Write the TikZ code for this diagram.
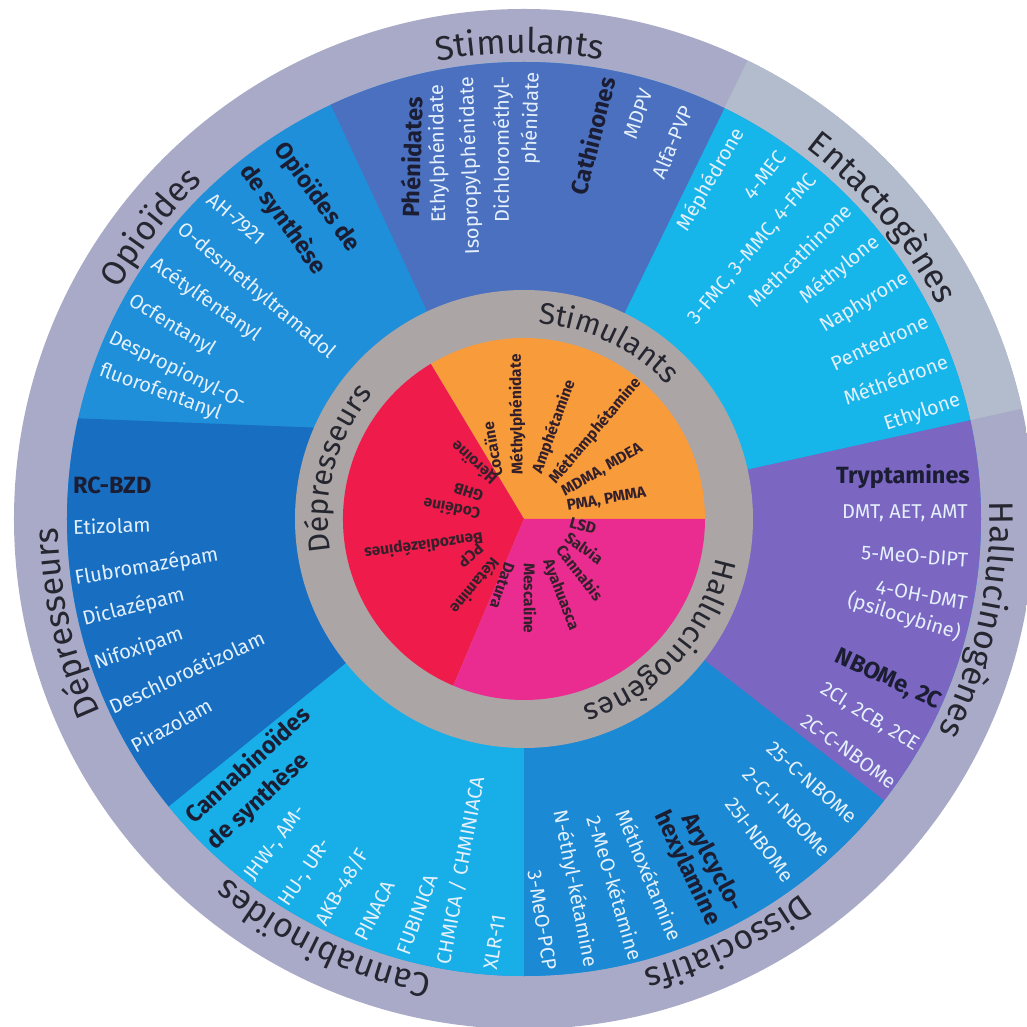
\documentclass[tikz,border=0pt]{standalone}
\usepackage{fontspec}
\setmainfont{Fira Sans}
\usetikzlibrary{decorations.text}
\definecolor{ringout}{HTML}{A9AAC8}
\definecolor{ringlight}{HTML}{B3BCCD}
\definecolor{innergrey}{HTML}{ABA5A6}
\definecolor{opio}{HTML}{1F8FD9}
\definecolor{stim}{HTML}{4B70BF}
\definecolor{enta}{HTML}{17B6EA}
\definecolor{hallu}{HTML}{7B67C2}
\definecolor{disso}{HTML}{1B89D3}
\definecolor{canna}{HTML}{18AEE7}
\definecolor{rcbzd}{HTML}{186FC2}
\definecolor{pieor}{HTML}{F89B3B}
\definecolor{piered}{HTML}{EF1C4B}
\definecolor{piemag}{HTML}{EA2B8F}
\definecolor{itemtxt}{HTML}{E4F0FB}
\definecolor{headtxt}{HTML}{1B1D33}
\definecolor{lbltxt}{HTML}{262630}
\definecolor{pietext}{HTML}{33202A}
\newcommand\ringlabel[4]{%
  \path[decorate, decoration={text along path, text align=center, text color=lbltxt,
    text={|\fontsize{#3}{#3}\selectfont|#4}}]
    ({#2+50}:#1) arc[start angle={#2+50}, end angle={#2-50}, radius=#1];}
\begin{document}
\begin{tikzpicture}[x=1pt,y=1pt,
  item/.style={text=itemtxt, font=\fontsize{20}{23}\selectfont, inner sep=0pt},
  head/.style={text=headtxt, font=\fontsize{23.5}{26}\selectfont\bfseries, inner sep=0pt},
  pie/.style={text=pietext, font=\fontsize{15.5}{17}\selectfont\bfseries, inner sep=0pt, anchor=west}]
\useasboundingbox (-524,-508) rectangle (503,519);
\clip (-524,-508) rectangle (503,519);
\fill[white] (-524,-508) rectangle (503,519);
% outer ring
\begin{scope}
  \clip (0,0) circle[radius=510];
  \fill[ringout] (-600,-600) rectangle (600,600);
  \fill[ringlight] (0,0) -- (12.5:700) -- (38:700) -- (64:700) -- cycle;
\end{scope}
% middle ring sectors
\begin{scope}
  \clip (0,0) circle[radius=457];
  \fill[opio] (-600,-600) rectangle (600,600);
  \fill[rcbzd] (-700,110.6) -- (0,83.2) -- (0,0) -- (219:900) -- cycle;
  \fill[canna] (0,0) -- (219:900) -- (270:900) -- cycle;
  \fill[disso] (0,0) -- (270:900) -- (-38:900) -- cycle;
  \fill[hallu] (0,0) -- (-38:900) -- (12.5:900) -- cycle;
  \fill[enta] (0,0) -- (12.5:900) -- (64:900) -- cycle;
  \fill[stim] (0,0) -- (64:900) -- (115:900) -- cycle;
\end{scope}
% inner ring and pie
\fill[innergrey] (0,0) circle[radius=229];
\fill[pieor] (0,0) -- (0:181) arc[start angle=0, end angle=121, radius=181] -- cycle;
\fill[piered] (0,0) -- (121:181) arc[start angle=121, end angle=247, radius=181] -- cycle;
\fill[piemag] (0,0) -- (247:181) arc[start angle=247, end angle=360, radius=181] -- cycle;
% outer labels
\ringlabel{466}{90.5}{34}{Stimulants}
\ringlabel{466}{40}{34}{Entactogènes}
\ringlabel{466}{-12.5}{34}{Hallucinogènes}
\ringlabel{466}{-64.3}{34}{Dissociatifs}
\ringlabel{466}{244.5}{34}{Cannabinoïdes}
\ringlabel{466}{192.8}{34}{Dépresseurs}
\ringlabel{466}{142}{34}{Opioïdes}
% inner labels
\ringlabel{196}{64.5}{30}{Stimulants}
\ringlabel{196}{-42}{30}{Hallucinogènes}
\ringlabel{196}{165}{30}{Dépresseurs}
% Opioides sector
\node[head, anchor=west, rotate=-54] (opA) at (-245,374) {Opioïdes de};
\node[head, anchor=west, rotate=-54] (opB) at (-279,352) {de synthèse};
\node[item, anchor=west, rotate=-40] (op1) at (-314,322) {AH-7921};
\node[item, anchor=west, rotate=-40] (op2) at (-344,292) {O-desmethyltramadol};
\node[item, anchor=west, rotate=-35] (op3) at (-371,256) {Acétylfentanyl};
\node[item, anchor=west, rotate=-31.5] (op4) at (-394,219) {Ocfentanyl};
\node[item, anchor=west, rotate=-26.4] (op5) at (-414,182) {Despropionyl-O-};
\node[item, anchor=west, rotate=-20.3] (op6) at (-424,149) {fluorofentanyl};
% RC-BZD sector
\node[head, anchor=west] (bz0) at (-451,34) {RC-BZD};
\node[item, anchor=west, rotate=2] (bz1) at (-451,-8) {Etizolam};
\node[item, anchor=west, rotate=9.7] (bz2) at (-449,-60) {Flubromazépam};
\node[item, anchor=west, rotate=14] (bz3) at (-441,-101) {Diclazépam};
\node[item, anchor=west, rotate=19] (bz4) at (-429,-145) {Nifoxipam};
\node[item, anchor=west, rotate=24.8] (bz5) at (-414,-188) {Deschloroétizolam};
\node[item, anchor=west, rotate=29] (bz6) at (-392,-228) {Pirazolam};
% Cannabinoides sector
\node[head, anchor=west, rotate=42.5] (caA) at (-336,-299) {Cannabinoïdes};
\node[head, anchor=west, rotate=42.5] (caB) at (-314,-326) {de synthèse};
\node[item, anchor=west, rotate=53] (ca1) at (-275,-360) {JHW-, AM-};
\node[item, anchor=west, rotate=56] (ca2) at (-240,-386) {HU-, UR-};
\node[item, anchor=west, rotate=59.6] (ca3) at (-204,-405) {AKB-48/F};
\node[item, anchor=west, rotate=63] (ca4) at (-164,-421) {PINACA};
\node[item, anchor=west, rotate=70] (ca5) at (-121,-435) {FUBINICA};
\node[item, anchor=west, rotate=79.5] (ca6) at (-81,-445) {CHMICA / CHMINIACA};
\node[item, anchor=west, rotate=81] (ca7) at (-34,-451) {XLR-11};
% Dissociatifs sector
\node[head, anchor=east, rotate=-62] (diA) at (213,-391) {Arylcyclo-};
\node[head, anchor=east, rotate=-64.5] (diB) at (190,-405) {hexylamine};
\node[item, anchor=east, rotate=-41.4] (di1) at (330,-301) {25-C-NBOMe};
\node[item, anchor=east, rotate=-46] (di2) at (303,-335) {2-C-I-NBOMe};
\node[item, anchor=east, rotate=-53] (di3) at (266,-361) {25I-NBOMe};
\node[item, anchor=east, rotate=-67.3] (di4) at (153,-421) {Méthoxétamine};
\node[item, anchor=east, rotate=-73.6] (di5) at (113,-441) {2-MeO-kétamine};
\node[item, anchor=east, rotate=-78.8] (di6) at (66,-448) {N-éthyl-kétamine};
\node[item, anchor=east, rotate=-81] (di7) at (26,-451) {3-MeO-PCP};
% Hallucinogenes sector
\node[head, anchor=east] (haA) at (446,42) {Tryptamines};
\node[item, anchor=east] (ha1) at (444,6) {DMT, AET, AMT};
\node[item, anchor=east, rotate=-4] (ha2) at (444,-41) {5-MeO-DIPT};
\node[item, anchor=east, rotate=-11] (ha3) at (443,-85) {4-OH-DMT};
\node[item, anchor=east, rotate=-17] (ha4) at (436,-115) {(psilocybine)};
\node[head, anchor=east, rotate=-25] (haB) at (416,-185) {NBOMe, 2C};
\node[item, anchor=east, rotate=-31.8] (ha5) at (393,-228) {2CI, 2CB, 2CE};
\node[item, anchor=east, rotate=-35.7] (ha6) at (370,-265) {2C-C-NBOMe};
% Entactogenes sector
\node[item, anchor=east, rotate=60] (en1) at (216,389) {Méphédrone};
\node[item, anchor=east, rotate=52] (en2) at (258,366) {4-MEC};
\node[item, anchor=east, rotate=50] (en3) at (290,342) {3-FMC, 3-MMC, 4-FMC};
\node[item, anchor=east, rotate=45] (en4) at (324,312) {Methcathinone};
\node[item, anchor=east, rotate=39] (en5) at (353,279) {Méthylone};
\node[item, anchor=east, rotate=31] (en6) at (383,242) {Naphyrone};
\node[item, anchor=east, rotate=25] (en7) at (403,199) {Pentedrone};
\node[item, anchor=east, rotate=20.5] (en8) at (423,159) {Méthédrone};
\node[item, anchor=east, rotate=18.6] (en9) at (436,119) {Ethylone};
% Stimulants sector
\node[head, anchor=east, rotate=88.6] (stA) at (-111,422) {Phénidates};
\node[item, anchor=east, rotate=91] (st1) at (-87,434) {Ethylphénidate};
\node[item, anchor=east, rotate=92] (st2) at (-57,442) {Isopropylphénidate};
\node[item, anchor=east, rotate=90] (st3) at (-21,443) {Dichlorométhyl-};
\node[item, anchor=east, rotate=88] (st4) at (9,447) {phénidate};
\node[head, anchor=east, rotate=75.8] (stB) at (83,442) {Cathinones};
\node[item, anchor=east, rotate=70.7] (st5) at (123,429) {MDPV};
\node[item, anchor=east, rotate=67.6] (st6) at (163,412) {Alfa-PVP};
% pie labels
\node[pie, rotate=100] (p1) at (-27,42) {Cocaïne};
\node[pie, rotate=91] (p2) at (-6,44) {Méthylphénidate};
\node[pie, rotate=70] (p3) at (13,46) {Amphétamine};
\node[pie, rotate=50] (p4) at (28,37) {Méthamphétamine};
\node[pie, rotate=30] (p5) at (39,26) {MDMA, MDEA};
\node[pie, rotate=10] (p6) at (43,12) {PMA, PMMA};
\node[pie, rotate=-16] (p7) at (46,-3) {LSD};
\node[pie, rotate=-36] (p8) at (43,-16) {Salvia};
\node[pie, rotate=-52] (p9) at (36,-28) {Cannabis};
\node[pie, rotate=-69] (p10) at (23,-41) {Ayahuasca};
\node[pie, rotate=-90] (p11) at (6,-44) {Mescaline};
\node[pie, rotate=-109] (p12) at (-14,-44) {Datura};
\node[pie, rotate=230.5] (p13) at (-27,-41) {Kétamine};
\node[pie, rotate=222] (p14) at (-43,-27) {PCP};
\node[pie, rotate=188] (p15) at (-41,-18) {Benzodiazépines};
\node[pie, rotate=169] (p16) at (-44,4) {Codéine};
\node[pie, rotate=162] (p17) at (-41,22) {GHB};
\node[pie, rotate=137.5] (p18) at (-30,37) {Héroïne};
\end{tikzpicture}
\end{document}
